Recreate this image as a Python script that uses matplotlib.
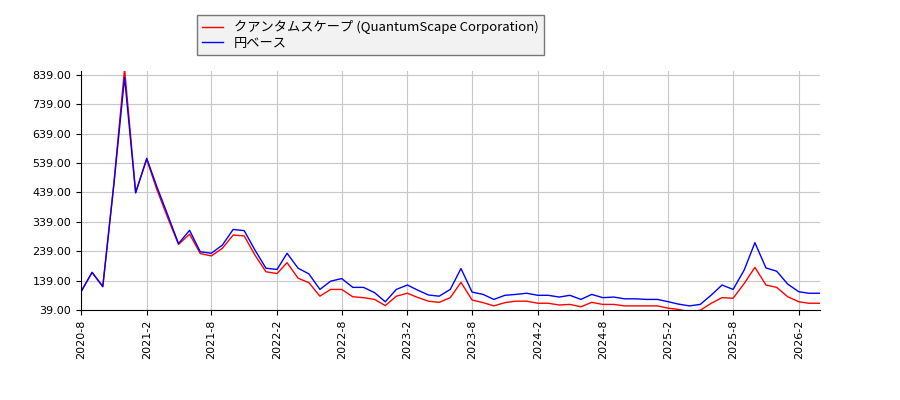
import matplotlib
matplotlib.use("Agg")
import matplotlib.pyplot as plt
import matplotlib.dates as mdates
import pandas as pd

# monthly closes, 2020-8 .. 2026-4
stock_price = [101, 167, 120, 470, 860, 440, 551, 450, 352, 262,
               297, 231, 223, 249, 294, 291, 226, 169, 163, 200,
               147, 132, 86, 109, 109, 84, 81, 75, 54, 86,
               96, 82, 69, 65, 81, 133, 73, 64, 53, 64,
               69, 69, 62, 62, 56, 58, 50, 65, 58, 58,
               53, 53, 53, 53, 45, 41, 33, 38, 62, 81,
               79, 129, 184, 124, 116, 84, 67, 62, 62]
yen_base = [101, 167, 118, 465, 830, 437, 555, 460, 362, 265,
            310, 237, 232, 260, 313, 309, 243, 181, 177, 232,
            181, 162, 109, 137, 146, 116, 116, 98, 67, 109,
            124, 107, 90, 86, 109, 180, 100, 92, 75, 89,
            92, 96, 89, 89, 83, 89, 75, 92, 81, 83,
            77, 77, 75, 75, 67, 59, 53, 58, 90, 124,
            109, 175, 268, 182, 171, 127, 101, 96, 96]
y_ticks = [39, 139, 239, 339, 439, 539, 639, 739, 839]

months = pd.date_range("2020-08-01", periods=len(yen_base), freq="MS")

fig = plt.figure(figsize=(9, 4), dpi=100)
ax = fig.add_axes([0.09, 0.225, 0.821, 0.5975])

ax.plot(months, stock_price, color="red", lw=1,
        label="クアンタムスケープ (QuantumScape Corporation)")
ax.plot(months, yen_base, color="blue", lw=1, label="円ベース")

ax.set_xlim(months[0], months[-1])
ax.set_ylim(39, 852)
ax.set_yticks(y_ticks)
ax.set_yticklabels([f"{v:.2f}" for v in y_ticks], fontsize=8)

ax.xaxis.set_major_locator(mdates.MonthLocator(bymonth=[2, 8]))
ax.xaxis.set_major_formatter(
    plt.FuncFormatter(lambda x, pos: f"{mdates.num2date(x).year}-{mdates.num2date(x).month}"))
for lbl in ax.get_xticklabels():
    lbl.set_rotation(90)
    lbl.set_fontsize(8)

ax.grid(True, color="#c8c8c8", lw=0.8)
ax.set_axisbelow(True)
for side in ["top", "right"]:
    ax.spines[side].set_visible(False)

leg = fig.legend(loc="upper left", bbox_to_anchor=(197 / 900, 1 - 15 / 400),
                 fancybox=False, borderaxespad=0,
                 prop={"family": ["Noto Sans CJK JP", "DejaVu Sans"], "size": 9.5},
                 handlelength=1.6, labelspacing=0.2)
leg.get_frame().set_facecolor("#f2f2f2")
leg.get_frame().set_edgecolor("#777777")
leg.get_frame().set_alpha(1)

fig.savefig("out.png", dpi=100)
